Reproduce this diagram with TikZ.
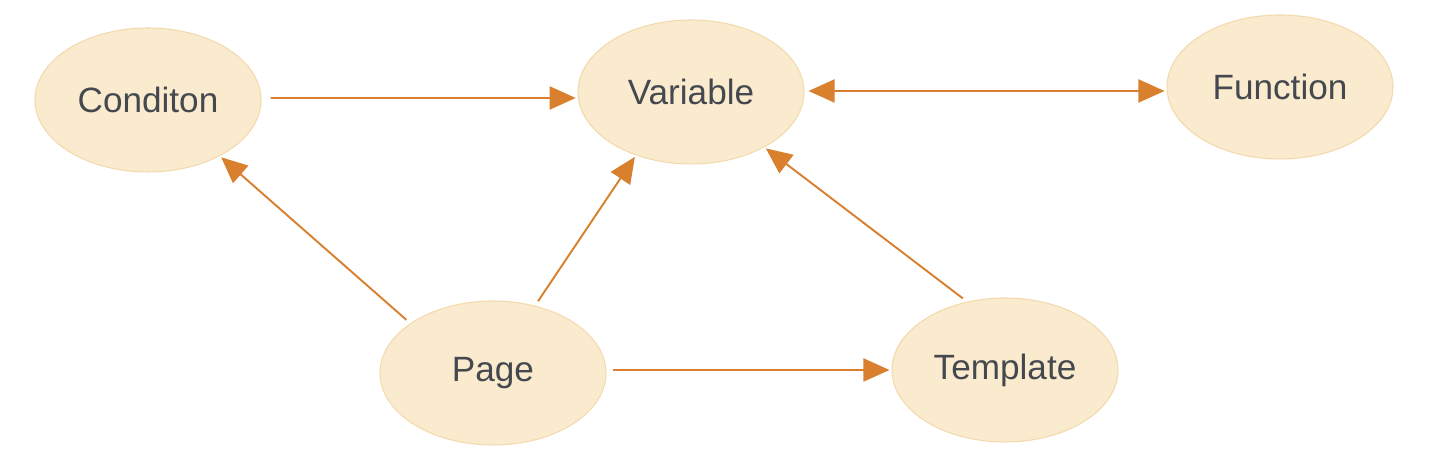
\documentclass[tikz,border=0pt]{standalone}
\usepackage{fontspec}
\setmainfont{Liberation Sans}
\usetikzlibrary{arrows.meta,shapes.geometric}
\definecolor{Cream}{HTML}{FAEBCF}
\definecolor{Edge}{HTML}{F3D9AC}
\definecolor{Rust}{HTML}{D9802F}
\definecolor{Ink}{HTML}{45494F}
\begin{document}
\begin{tikzpicture}[font=\fontsize{20}{24}\selectfont,
    >={Triangle[length=0.52cm,width=0.46cm]},
    blob/.style={ellipse,draw=Edge,fill=Cream,line width=0.6pt,inner sep=0pt,minimum width=4.52cm,minimum height=2.88cm,text=Ink},
    link/.style={Rust,line width=1.1pt,shorten <=3pt,shorten >=1pt}]
    \useasboundingbox (0,0) rectangle (29,9.48);
    \node[blob] (cond) at (2.96,7.48) {Conditon};
    \node[blob] (var) at (13.82,7.64) {Variable};
    \node[blob] (func) at (25.6,7.74) {Function};
    \node[blob] (page) at (9.86,2.02) {Page};
    \node[blob] (tmpl) at (20.1,2.08) {Template};
    % horizontal links
    \draw[link,->,shorten <=0.18cm] ([yshift=0.04cm]cond.east) -- ([yshift=-0.12cm]var.west);
    \draw[link,<->,shorten <=0.08cm,shorten >=0.04cm] ([yshift=0.02cm]var.east) -- ([yshift=-0.08cm]func.west);
    \draw[link,->,shorten <=0.12cm,shorten >=0.04cm] ([yshift=0.06cm]page.east) -- ([yshift=0cm]tmpl.west);
    % slanted links
    \foreach \a/\b in {page.149/cond.322,page.58/var.229,tmpl.119/var.323}{\draw[link,->] (\a) -- (\b);}
  \end{tikzpicture}
\end{document}
